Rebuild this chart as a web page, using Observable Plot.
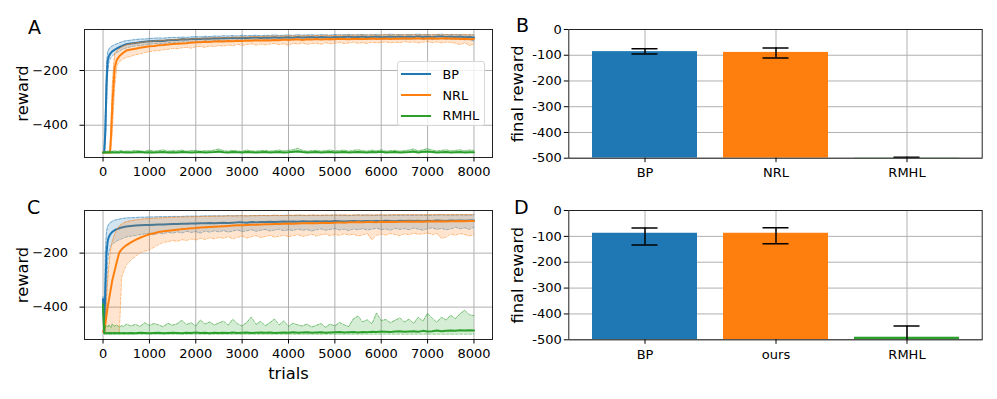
<!DOCTYPE html>
<html><head><meta charset="utf-8">
<script src="https://cdn.jsdelivr.net/npm/d3@7"></script>
<script src="https://cdn.jsdelivr.net/npm/@observablehq/plot@0.6"></script>
<style>
body{margin:0;background:#fff;font-family:"DejaVu Sans",sans-serif;}
#fig{position:relative;width:997px;height:399px;overflow:hidden;background:#fff;}
.panel{position:absolute;max-width:none !important;}
#fig svg text{font-family:"DejaVu Sans" !important;}
#fig svg [aria-label$="tick label"], #fig svg [aria-label$="tick label"] text{font-size:13px !important;}
.letter{position:absolute;font-size:19px;line-height:19px;color:#000;font-family:"DejaVu Sans";}
.legend{position:absolute;box-sizing:border-box;border:1px solid #d6d6d6;border-radius:3px;background:rgba(255,255,255,0.8);font-family:"DejaVu Sans";font-size:12.8px;}
.legend .row{position:absolute;left:0;height:14px;display:flex;align-items:center;}
</style></head><body><div id="fig"></div><script>
// ---------- data ----------
const trials = [0,25,50,75,100,125,150,175,200,250,300,350,400,450,500,
600,700,800,900,1000,1100,1200,1300,1400,1500,
1600,1700,1800,1900,2000,2100,2200,2300,2400,2500,
2600,2700,2800,2900,3000,3100,3200,3300,3400,3500,
3600,3700,3800,3900,4000,4100,4200,4300,4400,4500,
4600,4700,4800,4900,5000,5100,5200,5300,5400,5500,
5600,5700,5800,5900,6000,6100,6200,6300,6400,6500,
6600,6700,6800,6900,7000,7100,7200,7300,7400,7500,
7600,7700,7800,7900,8000];

const xTicks = [0,1000,2000,3000,4000,5000,6000,7000,8000];
const yTicksLine = [-200,-400];
const yTicksBar = [0,-100,-200,-300,-400,-500];
const seriesNames = ["BP","NRL","RMHL"];
const seriesColors = ["#1f77b4","#ff7f0e","#2ca02c"];

// Panel A
const aBP = [-500,-500,-420,-250,-165,-148,-140,-134,-130,-124,-119,-115,-111,-107,-104,
-101,-99,-97,-95,-93,-92,-91,-92,-89,-88,
-88,-86,-87,-85,-84,-85,-83,-84,-82,-83,
-81,-82,-80,-82,-80,-81,-80,-79,-81,-79,
-80,-78,-80,-79,-78,-80,-77,-79,-78,-77,
-79,-77,-78,-79,-77,-78,-77,-76,-78,-77,
-76,-78,-77,-76,-78,-77,-76,-77,-76,-78,
-76,-77,-75,-77,-76,-78,-76,-75,-77,-76,
-77,-76,-78,-77,-79];
const aBPlo = [-500,-500,-470,-330,-205,-172,-160,-152,-146,-139,-134,-129,-124,-120,-117,
-113,-110,-108,-106,-103,-102,-100,-102,-98,-97,
-97,-95,-96,-93,-92,-94,-91,-93,-90,-91,
-89,-91,-88,-90,-87,-89,-88,-87,-90,-87,
-88,-86,-89,-87,-86,-88,-85,-87,-86,-85,
-87,-85,-86,-88,-84,-86,-85,-84,-87,-85,
-84,-87,-85,-84,-86,-85,-83,-86,-84,-87,
-84,-85,-83,-86,-84,-87,-84,-83,-86,-84,
-86,-84,-88,-86,-92];
const aBPhi = [-500,-500,-360,-175,-132,-122,-117,-113,-110,-106,-102,-99,-96,-93,-91,
-89,-87,-85,-85,-83,-82,-81,-82,-80,-79,
-79,-78,-79,-77,-76,-77,-75,-76,-74,-75,
-73,-74,-72,-74,-71,-73,-72,-71,-73,-71,
-72,-70,-72,-71,-70,-72,-69,-71,-70,-69,
-71,-69,-70,-71,-68,-70,-69,-68,-70,-69,
-68,-70,-69,-68,-70,-69,-67,-69,-68,-70,
-68,-69,-67,-69,-68,-70,-68,-67,-69,-68,
-69,-68,-70,-69,-70];
const aNRL = [-500,-500,-500,-500,-500,-500,-500,-430,-330,-190,-160,-148,-140,-133,-127,
-123,-120,-117,-114,-111,-110,-108,-107,-105,-103,
-102,-101,-100,-98,-97,-97,-95,-96,-94,-93,
-94,-92,-93,-91,-92,-90,-91,-89,-90,-89,
-90,-88,-89,-87,-88,-87,-86,-88,-86,-87,
-85,-87,-86,-85,-86,-84,-85,-86,-84,-85,
-84,-85,-83,-85,-84,-83,-85,-83,-84,-82,
-84,-83,-82,-84,-83,-82,-84,-83,-82,-84,
-83,-85,-84,-86,-85];
const aNRLlo = [-500,-500,-500,-500,-500,-500,-500,-480,-420,-260,-180,-168,-162,-156,-152,
-148,-142,-139,-134,-131,-128,-127,-124,-122,-119,
-120,-117,-115,-118,-113,-112,-115,-110,-112,-108,
-111,-106,-109,-104,-108,-105,-102,-107,-103,-106,
-103,-101,-105,-102,-108,-100,-103,-99,-104,-101,
-100,-104,-98,-102,-100,-97,-101,-99,-96,-100,
-98,-101,-96,-99,-97,-95,-99,-96,-98,-94,
-97,-95,-99,-96,-94,-98,-95,-99,-96,-97,
-100,-105,-98,-108,-103];
const aNRLhi = [-500,-500,-500,-500,-500,-500,-500,-380,-250,-140,-128,-120,-114,-110,-106,
-102,-99,-97,-95,-93,-92,-90,-89,-88,-87,
-86,-85,-85,-84,-83,-82,-82,-81,-80,-80,
-79,-79,-78,-78,-77,-77,-76,-76,-76,-75,
-75,-74,-75,-74,-73,-74,-73,-73,-72,-73,
-72,-73,-71,-72,-72,-71,-72,-70,-71,-71,
-70,-71,-70,-71,-70,-69,-70,-70,-69,-70,
-70,-69,-70,-69,-70,-69,-69,-70,-69,-70,
-69,-70,-69,-70,-70];
const aRMHL = [-500,-500,-499,-500,-499,-500,-499,-500,-499,-500,-499,-500,-498,-500,-499,
-500,-499,-498,-500,-499,-500,-499,-498,-500,-499,
-500,-498,-499,-500,-499,-498,-500,-499,-498,-496,
-499,-500,-498,-499,-500,-498,-499,-500,-499,-498,
-500,-499,-498,-500,-499,-497,-495,-498,-500,-499,
-498,-500,-499,-498,-500,-499,-498,-500,-499,-498,
-499,-500,-498,-499,-497,-500,-499,-498,-500,-499,
-498,-496,-500,-497,-496,-498,-500,-499,-498,-500,
-499,-498,-500,-499,-499];
const aRMHLlo = [-500,-500,-500,-500,-500,-500,-500,-500,-500,-500,-500,-500,-500,-500,-500,
-500,-500,-500,-500,-500,-500,-500,-500,-500,-500,
-500,-500,-500,-500,-500,-500,-500,-500,-500,-500,
-500,-500,-500,-500,-500,-500,-500,-500,-500,-500,
-500,-500,-500,-500,-500,-500,-500,-500,-500,-500,
-500,-500,-500,-500,-500,-500,-500,-500,-500,-500,
-500,-500,-500,-500,-500,-500,-500,-500,-500,-500,
-500,-500,-500,-500,-500,-500,-500,-500,-500,-500,
-500,-500,-500,-500,-500];
const aRMHLhi = [-500,-500,-495,-497,-494,-496,-493,-496,-495,-493,-496,-494,-492,-496,-494,
-495,-492,-494,-496,-491,-495,-493,-490,-495,-493,
-494,-491,-495,-493,-492,-495,-493,-494,-491,-487,
-493,-495,-492,-494,-496,-491,-494,-495,-493,-492,
-495,-493,-491,-494,-492,-490,-484,-492,-495,-493,
-492,-495,-493,-491,-494,-493,-491,-495,-492,-490,
-493,-495,-491,-494,-490,-495,-493,-492,-495,-493,
-491,-487,-494,-490,-486,-491,-494,-492,-490,-494,
-492,-490,-494,-491,-492];

// Panel C
const cBP = [-370,-490,-330,-200,-155,-140,-132,-126,-121,-115,-111,-108,-105,-103,-101,
-99,-98,-97,-96,-96,-95,-94,-94,-93,-92,
-92,-91,-91,-90,-90,-89,-89,-88,-89,-88,
-87,-88,-87,-86,-86,-87,-85,-86,-85,-85,
-84,-85,-84,-83,-84,-83,-84,-82,-83,-83,
-82,-83,-82,-83,-81,-82,-83,-82,-81,-82,
-82,-81,-82,-81,-82,-80,-81,-82,-80,-81,
-80,-81,-80,-82,-80,-81,-79,-80,-81,-79,
-80,-79,-80,-79,-79];
const cBPlo = [-390,-500,-480,-350,-230,-195,-180,-172,-166,-160,-155,-150,-147,-143,-140,
-137,-134,-131,-128,-127,-132,-125,-128,-122,-126,
-121,-125,-119,-123,-120,-126,-118,-122,-117,-121,
-116,-122,-118,-114,-120,-117,-113,-119,-115,-112,
-118,-114,-111,-117,-113,-116,-110,-115,-112,-118,
-113,-110,-115,-112,-109,-114,-111,-116,-110,-113,
-109,-114,-111,-107,-113,-110,-115,-108,-112,-109,
-113,-107,-111,-115,-109,-106,-112,-108,-113,-110,
-104,-110,-106,-112,-103];
const cBPhi = [-360,-480,-190,-120,-100,-93,-88,-85,-82,-78,-76,-74,-72,-71,-70,
-69,-68,-67,-67,-66,-66,-65,-65,-65,-64,
-64,-64,-63,-63,-63,-63,-62,-62,-62,-62,
-62,-61,-62,-61,-61,-62,-61,-61,-60,-61,
-61,-60,-61,-60,-60,-61,-60,-60,-61,-60,
-60,-61,-60,-60,-59,-60,-60,-61,-60,-59,
-60,-59,-60,-60,-59,-60,-59,-59,-60,-59,
-59,-60,-59,-59,-60,-59,-59,-58,-59,-59,
-59,-58,-59,-59,-58];
const cNRL = [-490,-490,-462,-430,-400,-375,-350,-325,-300,-265,-230,-198,-186,-178,-171,
-160,-151,-143,-136,-130,-126,-122,-119,-117,-115,
-113,-111,-110,-108,-107,-105,-104,-103,-102,-101,
-100,-99,-98,-97,-97,-96,-95,-95,-94,-93,
-93,-92,-92,-91,-90,-91,-90,-89,-89,-88,
-89,-88,-87,-88,-87,-86,-87,-86,-86,-85,
-86,-85,-85,-86,-84,-85,-84,-85,-84,-84,
-83,-84,-83,-84,-83,-82,-83,-82,-83,-82,
-82,-81,-82,-81,-81];
const cNRLlo = [-490,-495,-495,-495,-495,-495,-495,-495,-495,-495,-495,-495,-290,-265,-245,
-225,-212,-198,-192,-188,-178,-168,-160,-158,-153,
-156,-150,-153,-147,-151,-145,-149,-143,-147,-141,
-145,-139,-147,-141,-137,-144,-139,-135,-142,-138,
-134,-141,-137,-133,-139,-135,-131,-138,-134,-130,
-136,-132,-129,-135,-131,-134,-128,-133,-130,-136,
-132,-127,-150,-134,-129,-133,-127,-131,-135,-128,
-132,-126,-130,-128,-125,-131,-127,-145,-140,-129,
-133,-127,-131,-136,-132];
const cNRLhi = [-485,-485,-440,-380,-300,-250,-205,-175,-155,-130,-112,-100,-93,-88,-84,
-80,-77,-75,-73,-72,-71,-70,-69,-68,-67,
-67,-66,-66,-65,-65,-64,-64,-64,-63,-63,
-63,-62,-62,-62,-61,-62,-61,-61,-61,-60,
-61,-60,-60,-61,-60,-60,-59,-60,-60,-59,
-60,-59,-59,-60,-59,-59,-58,-59,-59,-58,
-59,-58,-59,-58,-58,-59,-58,-58,-57,-58,
-58,-57,-58,-58,-57,-58,-57,-57,-58,-57,
-57,-58,-57,-57,-57];
const cRMHL = [-390,-497,-497,-496,-497,-496,-497,-496,-497,-496,-497,-496,-497,-496,-497,
-496,-497,-495,-496,-497,-496,-495,-497,-496,-495,
-496,-497,-495,-496,-494,-496,-495,-497,-495,-496,
-495,-496,-494,-496,-495,-494,-496,-495,-494,-495,
-494,-496,-495,-494,-495,-493,-495,-494,-493,-495,
-494,-493,-495,-494,-493,-492,-494,-493,-492,-494,
-492,-493,-491,-492,-490,-491,-492,-490,-489,-491,
-490,-489,-491,-488,-490,-489,-487,-489,-488,-487,
-488,-486,-487,-486,-487];
const cRMHLlo = [-400,-500,-500,-500,-500,-500,-500,-500,-500,-500,-500,-500,-500,-500,-500,
-500,-500,-500,-500,-500,-500,-500,-500,-500,-500,
-500,-500,-500,-500,-500,-500,-500,-500,-500,-500,
-500,-500,-500,-500,-500,-500,-500,-500,-500,-500,
-500,-500,-500,-500,-500,-500,-500,-500,-500,-500,
-500,-500,-500,-500,-500,-500,-500,-500,-500,-500,
-500,-500,-500,-500,-500,-500,-500,-500,-500,-500,
-500,-500,-500,-500,-500,-500,-500,-500,-500,-500,
-500,-500,-500,-500,-500];
const cRMHLhi = [-385,-490,-470,-468,-474,-465,-470,-476,-462,-471,-466,-475,-469,-472,-463,
-470,-464,-472,-458,-468,-461,-466,-473,-460,-467,
-462,-449,-465,-458,-470,-448,-463,-455,-466,-459,
-452,-467,-445,-462,-470,-457,-437,-464,-453,-469,
-458,-444,-466,-451,-472,-460,-466,-470,-463,-474,
-468,-461,-475,-463,-470,-457,-466,-472,-444,-433,
-455,-447,-462,-422,-450,-446,-458,-449,-440,-455,
-445,-460,-438,-452,-423,-441,-456,-438,-448,-430,
-443,-425,-412,-428,-432];

// Panel B
const catsB = ["BP","NRL","RMHL"];
const valsB = [-86,-89,-499];
const errLoB = [-95,-111,-500];
const errHiB = [-75,-72,-496];
// Panel D
const catsD = ["BP","ours","RMHL"];
const valsD = [-88,-88,-490];
const errLoD = [-133,-129,-533];
const errHiD = [-68,-67,-447];
const barBase = -500;

// ---------- helpers ----------
const FONT = "DejaVu Sans";
const fig = document.getElementById("fig");
[aBP,aBPlo,aBPhi,aNRL,aNRLlo,aNRLhi,aRMHL,aRMHLlo,aRMHLhi,cBP,cBPlo,cBPhi,cNRL,cNRLlo,cNRLhi,cRMHL,cRMHLlo,cRMHLhi]
  .forEach((a,i)=>{ if(a.length!==trials.length) throw new Error("length mismatch in series "+i+": "+a.length); });

function place(el, left, top){ el.classList.add("panel"); el.style.left=left+"px"; el.style.top=top+"px"; fig.appendChild(el); }

const baseStyle = {fontFamily:FONT, fontSize:"13px", color:"#000", background:"transparent", overflow:"visible"};

function linePanel(opts){
  const {series, yDomain, width, height, mL, mR, mT, mB, xLabel} = opts;
  const marks = [
    Plot.gridX(xTicks, {stroke:"#b0b0b0", strokeOpacity:1, strokeWidth:1}),
    Plot.gridY(yTicksLine, {stroke:"#b0b0b0", strokeOpacity:1, strokeWidth:1})
  ];
  series.forEach((s,k)=>{
    const rows = trials.map((t,i)=>({t, m:s.m[i], lo:s.lo[i], hi:s.hi[i]}));
    const c = seriesColors[k];
    marks.push(Plot.areaY(rows,{x:"t", y1:"lo", y2:"hi", fill:c, fillOpacity:0.2, clip:true}));
    marks.push(Plot.lineY(rows,{x:"t", y:"lo", stroke:c, strokeWidth:1, strokeOpacity:0.55, strokeDasharray:"3,1.5", clip:true}));
    marks.push(Plot.lineY(rows,{x:"t", y:"hi", stroke:c, strokeWidth:1, strokeOpacity:0.55, strokeDasharray:"3,1.5", clip:true}));
    marks.push(Plot.lineY(rows,{x:"t", y:"m", stroke:c, strokeWidth:2, clip:true}));
  });
  marks.push(Plot.frame({stroke:"#222", strokeWidth:1}));
  marks.push(Plot.axisX({ticks:xTicks, tickFormat:d=>String(d), tickSize:4.5, tickPadding:5, label:null, fontSize:13}));
  marks.push(Plot.axisY({ticks:yTicksLine, tickFormat:d3.format("d"), tickSize:4.5, tickPadding:12, label:null, fontSize:13}));
  marks.push(Plot.text(["reward"],{frameAnchor:"left", text:d=>d, rotate:-90, textAnchor:"middle", dx:-62, fontSize:16.3}));
  if (xLabel) marks.push(Plot.text([xLabel],{frameAnchor:"bottom", text:d=>d, textAnchor:"middle", dy:39.5, fontSize:16.3}));
  return Plot.plot({width, height, marginLeft:mL, marginRight:mR, marginTop:mT, marginBottom:mB,
    x:{domain:[-400,8400]}, y:{domain:yDomain}, style:baseStyle, marks});
}

function barPanel(opts){
  const {cats, vals, lo, hi, width, height, mL, mR, mT, mB} = opts;
  const rows = cats.map((c,i)=>({c, v:vals[i], lo:lo[i], hi:hi[i]}));
  return Plot.plot({width, height, marginLeft:mL, marginRight:mR, marginTop:mT, marginBottom:mB,
    x:{domain:cats, paddingInner:0.2, paddingOuter:0.17},
    y:{domain:[-500,0]},
    color:{domain:cats, range:seriesColors},
    style:baseStyle,
    marks:[
      Plot.gridX({stroke:"#b0b0b0", strokeOpacity:1, strokeWidth:1}),
      Plot.gridY(yTicksBar, {stroke:"#b0b0b0", strokeOpacity:1, strokeWidth:1}),
      Plot.barY(rows,{x:"c", y1:barBase, y2:"v", fill:"c", clip:true}),
      Plot.ruleX(rows,{x:"c", y1:"lo", y2:"hi", stroke:"#000", strokeWidth:1.5, clip:true}),
      Plot.tickY(rows,{x:"c", y:"lo", stroke:"#000", strokeWidth:1.5, insetLeft:39.5, insetRight:39.5, clip:true}),
      Plot.tickY(rows,{x:"c", y:"hi", stroke:"#000", strokeWidth:1.5, insetLeft:39.5, insetRight:39.5, clip:true}),
      Plot.frame({stroke:"#222", strokeWidth:1}),
      Plot.axisX({tickSize:4.5, tickPadding:5, label:null, fontSize:13}),
      Plot.axisY({ticks:yTicksBar, tickFormat:d=>String(d), tickSize:4.5, tickPadding:2.5, label:null, fontSize:13}),
      Plot.text(["final reward"],{frameAnchor:"left", text:d=>d, rotate:-90, textAnchor:"middle", dx:-51.5, fontSize:16.3})
    ]});
}

const seriesA = [{m:aBP,lo:aBPlo,hi:aBPhi},{m:aNRL,lo:aNRLlo,hi:aNRLhi},{m:aRMHL,lo:aRMHLlo,hi:aRMHLhi}];
const seriesC = [{m:cBP,lo:cBPlo,hi:cBPhi},{m:cNRL,lo:cNRLlo,hi:cNRLhi},{m:cRMHL,lo:cRMHLlo,hi:cRMHLhi}];

place(linePanel({series:seriesA, yDomain:[-518,-50], width:500, height:190, mL:84, mR:8, mT:29, mB:33}), 0, 0);
place(linePanel({series:seriesC, yDomain:[-520,-42], width:500, height:209, mL:84, mR:8, mT:20, mB:60, xLabel:"trials"}), 0, 190);
place(barPanel({cats:catsB, vals:valsB, lo:errLoB, hi:errHiB, width:517, height:190, mL:88.3, mR:15.3, mT:29, mB:32.3}), 480, 0);
place(barPanel({cats:catsD, vals:valsD, lo:errLoD, hi:errHiD, width:517, height:209, mL:88.3, mR:15.3, mT:20, mB:59.7}), 480, 190);

// legend (panel A)
const leg = document.createElement("div");
leg.className = "legend";
Object.assign(leg.style,{left:"396.5px", top:"61px", width:"88.5px", height:"65px"});
seriesNames.forEach((n,k)=>{
  const r = document.createElement("div");
  r.className = "row";
  r.style.top = (5.3 + k*20.8) + "px";
  r.innerHTML = `<svg width="34" height="14" style="margin-left:3px"><line x1="0" x2="30" y1="7" y2="7" stroke="${seriesColors[k]}" stroke-width="2"/></svg><span style="margin-left:8px">${n}</span>`;
  leg.appendChild(r);
});
fig.appendChild(leg);

// panel letters
[["A",28,17.8],["B",516,16],["C",27,198],["D",514,198]].forEach(([t,x,y])=>{
  const d = document.createElement("div");
  d.className = "letter"; d.textContent = t;
  d.style.left = x+"px"; d.style.top = y+"px";
  fig.appendChild(d);
});
</script></body></html>
